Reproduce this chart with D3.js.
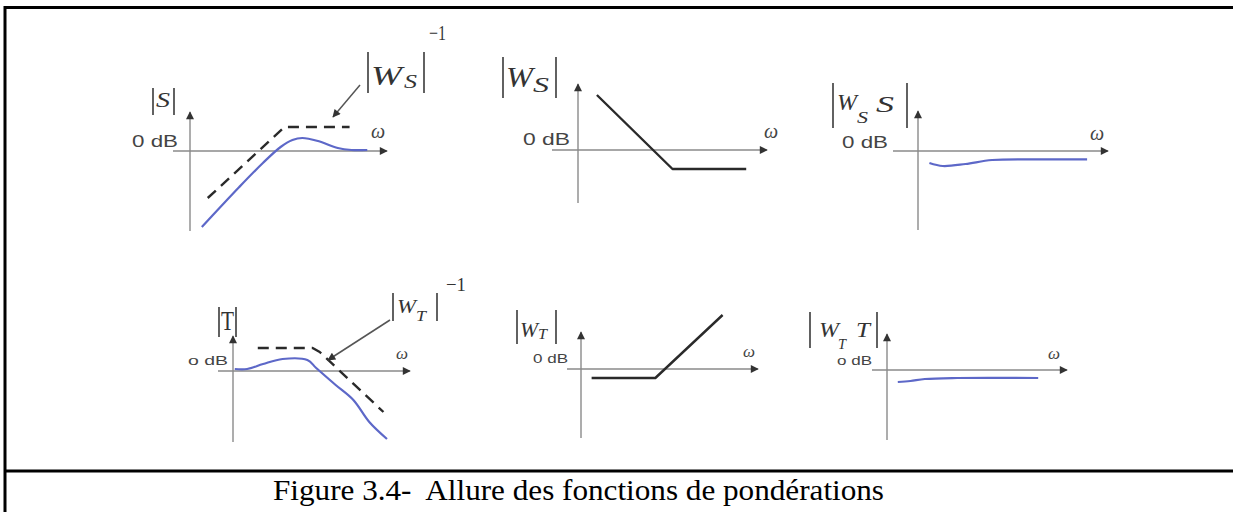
<!DOCTYPE html>
<html>
<head>
<meta charset="utf-8">
<script src="https://cdn.jsdelivr.net/npm/d3@7"></script>
<style>
  html, body { margin: 0; padding: 0; background: #fff; }
  text { white-space: pre; }
</style>
</head>
<body>
<svg id="fig" width="1233" height="512"></svg>
<script>
// Frequency runs 0..10 on every sketch (arbitrary log-ω units); magnitudes are in dB.
const sensitivity   = [[0.6,-38],[2.5,-18],[3.7,-6],[4.6,2],[5.2,5.5],[5.7,6.5],[6.5,5],[7.5,1.5],[8.2,0.5],[9.0,0.5]]; // |S|
const wsInverse     = [[0.9,-23.5],[4.8,12],[8.1,12]];                       // |W_S|^-1
const wsWeight      = [[1.0,27.5],[5.0,-9.5],[8.9,-9.5]];                    // |W_S|
const wsS           = [[0.6,-6],[1.3,-7.5],[2.5,-6.5],[3.9,-4.5],[6.4,-4.2],[8.9,-4.2]]; // |W_S S|
const complementary = [[0.1,1],[0.8,1],[1.7,3.5],[2.8,6],[4.2,5.5],[4.7,1.5],[5.8,-7],[6.8,-14.5],[7.7,-25.5],[8.7,-34]]; // |T|
const wtInverse     = [[1.4,11.5],[4.5,11.5],[4.9,9.5],[8.5,-20.5]];         // |W_T|^-1
const wtWeight      = [[0.6,-4.5],[4.2,-4.5],[8.0,27]];                      // |W_T|
const wtT           = [[0.6,-6],[1.3,-5.5],[2.1,-4.5],[3.9,-4],[8.4,-4]];    // |W_T T|
const zeroLabels    = ["0 dB", "0 dB", "0 dB", "o dB", "0 dB", "o dB"];
const omegaLabel    = "ω";
const caption       = "Figure 3.4-  Allure des fonctions de pondérations";

const svg = d3.select("#fig");
const BLUE = "#5d68c8", INK = "#2a2a2a", AXIS = "#8a8a8a";
const serif = "'Liberation Serif', 'Times New Roman', Times, serif";
const sans = "'Liberation Sans', Arial, Helvetica, sans-serif";

// arrowheads
const defs = svg.append("defs");
defs.append("marker").attr("id", "tip")
  .attr("viewBox", "0 0 10 10").attr("refX", 9).attr("refY", 5)
  .attr("markerUnits", "userSpaceOnUse").attr("markerWidth", 10).attr("markerHeight", 8)
  .attr("orient", "auto")
  .append("path").attr("d", "M0,0 L10,5 L0,10 z").attr("fill", "#333");

// frame
const frame = svg.append("g").attr("stroke", "#000").attr("stroke-width", 3).attr("fill", "none");
frame.append("path").attr("d", "M5,512 L5,7.5 L1233,7.5");
frame.append("line").attr("x1", 5).attr("x2", 1233).attr("y1", 471).attr("y2", 471);

svg.append("text")
  .attr("x", 578.5).attr("y", 500).attr("text-anchor", "middle")
  .attr("textLength", 611).attr("lengthAdjust", "spacingAndGlyphs")
  .attr("font-family", serif)
  .attr("font-size", 30).attr("fill", "#000")
  .text(caption);

// sketch frames: origin on y axis, x arrow tip, y axis extent, label placement
const panels = [
  { x0: 190, xs: 173, xe: 387, y0: 151, yt: 112, yb: 231, db: 17, dbw: 46, dbx: 178, dby: 147, wx: 378, wy: 138, ws: 20,
    series: [{ d: wsInverse, kind: "dash" }, { d: sensitivity, kind: "blue" }] },
  { x0: 578, xs: 552, xe: 767, y0: 150, yt: 84,  yb: 203, db: 17, dbw: 47, dbx: 570, dby: 145, wx: 771, wy: 138, ws: 20,
    series: [{ d: wsWeight, kind: "solid" }] },
  { x0: 918, xs: 893, xe: 1108, y0: 151, yt: 111, yb: 230, db: 17, dbw: 46, dbx: 888, dby: 148, wx: 1097, wy: 140, ws: 20,
    series: [{ d: wsS, kind: "blue" }] },
  { x0: 233, xs: 218, xe: 410, y0: 371, yt: 336, yb: 442, db: 13, dbw: 40, dbx: 228, dby: 365, wx: 402, wy: 359, ws: 17,
    series: [{ d: wtInverse, kind: "dash" }, { d: complementary, kind: "blue" }] },
  { x0: 581, xs: 567, xe: 758, y0: 369, yt: 332, yb: 438, db: 13, dbw: 35, dbx: 568, dby: 363, wx: 749, wy: 357, ws: 17,
    series: [{ d: wtWeight, kind: "solid" }] },
  { x0: 887, xs: 872, xe: 1067, y0: 370, yt: 334, yb: 440, db: 13, dbw: 35, dbx: 872, dby: 365, wx: 1054, wy: 359, ws: 17,
    series: [{ d: wtT, kind: "blue" }] }
];

panels.forEach((p, i) => {
  const g = svg.append("g");
  const x = d3.scaleLinear().domain([0, 10]).range([p.x0, p.xe]);
  const y = d3.scaleLinear().domain([-10, 10]).range([p.y0 + 20, p.y0 - 20]);

  g.append("line").attr("x1", p.xs).attr("x2", p.xe).attr("y1", p.y0).attr("y2", p.y0)
    .attr("stroke", AXIS).attr("stroke-width", 1.4).attr("marker-end", "url(#tip)");
  g.append("line").attr("x1", p.x0).attr("x2", p.x0).attr("y1", p.yb).attr("y2", p.yt)
    .attr("stroke", AXIS).attr("stroke-width", 1.4).attr("marker-end", "url(#tip)");

  g.append("text").attr("x", p.dbx - p.dbw).attr("y", p.dby)
    .attr("textLength", p.dbw).attr("lengthAdjust", "spacingAndGlyphs")
    .attr("font-family", sans).attr("font-size", p.db)
    .attr("fill", "#444").text(zeroLabels[i]);
  g.append("text").attr("x", p.wx).attr("y", p.wy).attr("text-anchor", "middle")
    .attr("font-family", serif).attr("font-style", "italic")
    .attr("font-size", p.ws).attr("fill", "#444").text(omegaLabel);

  p.series.forEach(s => {
    const line = d3.line().x(d => x(d[0])).y(d => y(d[1]))
      .curve(s.kind === "blue" ? d3.curveCatmullRom.alpha(0.5) : d3.curveLinear);
    g.append("path").datum(s.d).attr("d", line).attr("fill", "none")
      .attr("stroke", s.kind === "blue" ? BLUE : INK)
      .attr("stroke-width", s.kind === "blue" ? 2.2 : 2.4)
      .attr("stroke-dasharray", s.kind === "dash" ? "11,7" : null)
      .attr("stroke-linejoin", "round");
  });
});

// magnitude labels: vertical bars plus italic symbols
function bar(x, y1, y2) {
  svg.append("line").attr("x1", x).attr("x2", x).attr("y1", y1).attr("y2", y2)
    .attr("stroke", "#3a3a3a").attr("stroke-width", 1.6);
}
function sym(x, y, txt, size, width, italic = true) {
  svg.append("text").attr("x", x).attr("y", y).attr("font-family", serif)
    .attr("font-style", italic ? "italic" : "normal").attr("font-size", size)
    .attr("textLength", width).attr("lengthAdjust", "spacingAndGlyphs")
    .attr("fill", "#333").text(txt);
}

// |S|
bar(153, 88, 115); bar(174, 88, 115); sym(156, 107, "S", 22, 14);
// |W_S|^-1
bar(368, 52, 93); bar(424, 52, 93);
sym(371, 85, "W", 27, 31); sym(404, 88, "S", 18, 13); sym(429, 40, "−1", 21, 17, false);
// |W_S|
bar(503, 57, 98); bar(556, 57, 98);
sym(506, 87, "W", 30, 27); sym(533, 92, "S", 21, 16);
// |W_S S|
bar(833, 83, 128); bar(907, 83, 128);
sym(837, 110, "W", 23, 20); sym(857, 123, "S", 17, 11); sym(876, 112, "S", 23, 18);
// |T|
bar(219, 307, 337); bar(236, 307, 337); sym(221, 330, "T", 27, 13, false);
// |W_T|^-1
bar(393, 293, 321); bar(437, 293, 321);
sym(397, 313, "W", 19, 19); sym(416, 321, "T", 14, 10); sym(446, 291, "−1", 19, 20, false);
// |W_T|
bar(517, 310, 344); bar(556, 310, 344);
sym(520, 337, "W", 22, 18); sym(538, 339, "T", 15, 9);
// |W_T T|
bar(810, 312, 348); bar(877, 312, 348);
sym(819, 337, "W", 22, 20); sym(838, 349, "T", 15, 8); sym(856, 337, "T", 22, 14);

// pointers to the weighting bounds
const pointer = svg.append("g").attr("stroke", "#555").attr("stroke-width", 1.5);
pointer.append("line").attr("x1", 360).attr("y1", 85).attr("x2", 333).attr("y2", 117).attr("marker-end", "url(#tip)");
pointer.append("line").attr("x1", 390).attr("y1", 320).attr("x2", 328).attr("y2", 360).attr("marker-end", "url(#tip)");
</script>
</body>
</html>
